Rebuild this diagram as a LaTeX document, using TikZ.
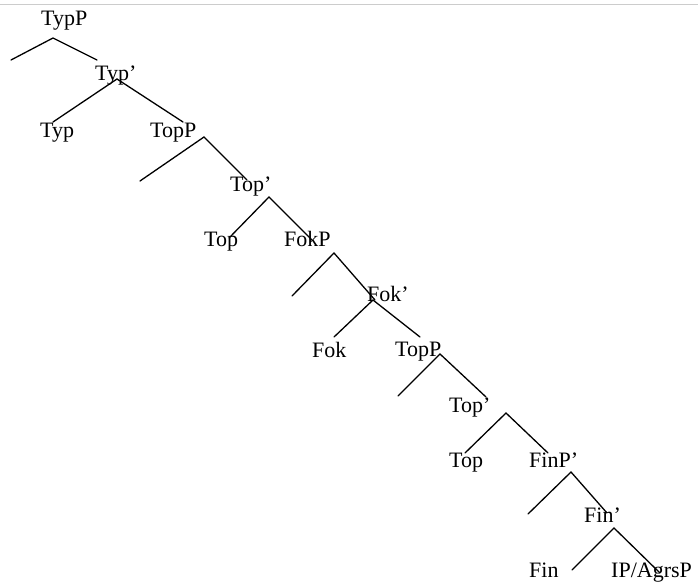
\documentclass[tikz,border=0pt]{standalone}
\usepackage{fontspec}
\setmainfont{Liberation Serif}

\tikzset{
  lbl/.style={anchor=base west, inner sep=0pt, font=\fontsize{22}{26}\selectfont},
  branch/.style={line width=1.3pt, line cap=round}
}

\begin{document}
\begin{tikzpicture}[x=1pt, y=-1pt]
    \useasboundingbox (0, 0) rectangle (698, 583);
    \draw[black!20, line width=1pt] (0, 5) -- (698, 5);

    % Labels
    \node[lbl] (typP) at (41, 26) {TypP};
    \node[lbl] (typBar) at (95, 81) {Typ’};
    \node[lbl] (typ) at (40, 137) {Typ};
    \node[lbl] (topP) at (150, 137) {TopP};
    \node[lbl] (topBar) at (230, 191) {Top’};
    \node[lbl] (top) at (204, 246) {Top};
    \node[lbl] (fokP) at (284, 246) {FokP};
    \node[lbl] (fokBar) at (367, 301) {Fok’};
    \node[lbl] (fok) at (312, 357) {Fok};
    \node[lbl] (topPii) at (395, 356) {TopP};
    \node[lbl] (topBarii) at (449, 412) {Top’};
    \node[lbl] (topii) at (449, 467) {Top};
    \node[lbl] (finP) at (529, 467) {FinP’};
    \node[lbl] (finBar) at (584, 522) {Fin’};
    \node[lbl] (fin) at (529, 577) {Fin};
    \node[lbl] (ipP) at (611, 577) {IP/AgrsP};

    % Branch points
    \coordinate (typP-a) at (53, 38);   \coordinate (typP-l) at (11, 60);   \coordinate (typP-r) at (97, 60);
    \coordinate (typBar-a) at (117, 79); \coordinate (typBar-l) at (53, 122); \coordinate (typBar-r) at (183, 122);
    \coordinate (topP-a) at (204, 137); \coordinate (topP-l) at (140, 181); \coordinate (topP-r) at (247, 180);
    \coordinate (topBar-a) at (269, 197); \coordinate (topBar-l) at (229, 238); \coordinate (topBar-r) at (312, 240);
    \coordinate (fokP-a) at (334, 253); \coordinate (fokP-l) at (292, 296); \coordinate (fokP-r) at (375, 300);
    \coordinate (fokBar-a) at (373, 300); \coordinate (fokBar-l) at (334, 337); \coordinate (fokBar-r) at (420, 337);
    \coordinate (topPii-a) at (440, 354); \coordinate (topPii-l) at (398, 396); \coordinate (topPii-r) at (486, 397);
    \coordinate (topBarii-a) at (506, 413); \coordinate (topBarii-l) at (465, 453); \coordinate (topBarii-r) at (548, 453);
    \coordinate (finP-a) at (571, 472); \coordinate (finP-l) at (528, 514); \coordinate (finP-r) at (607, 513);
    \coordinate (finBar-a) at (614, 528); \coordinate (finBar-l) at (572, 570); \coordinate (finBar-r) at (660, 573);

    % Branches
    \draw[branch] (typP-l) -- (typP-a) -- (typP-r);
    \draw[branch] (typBar-l) -- (typBar-a) -- (typBar-r);
    \draw[branch] (topP-l) -- (topP-a) -- (topP-r);
    \draw[branch] (topBar-l) -- (topBar-a) -- (topBar-r);
    \draw[branch] (fokP-l) -- (fokP-a) -- (fokP-r);
    \draw[branch] (fokBar-l) -- (fokBar-a) -- (fokBar-r);
    \draw[branch] (topPii-l) -- (topPii-a) -- (topPii-r);
    \draw[branch] (topBarii-l) -- (topBarii-a) -- (topBarii-r);
    \draw[branch] (finP-l) -- (finP-a) -- (finP-r);
    \draw[branch] (finBar-l) -- (finBar-a) -- (finBar-r);
\end{tikzpicture}
\end{document}
